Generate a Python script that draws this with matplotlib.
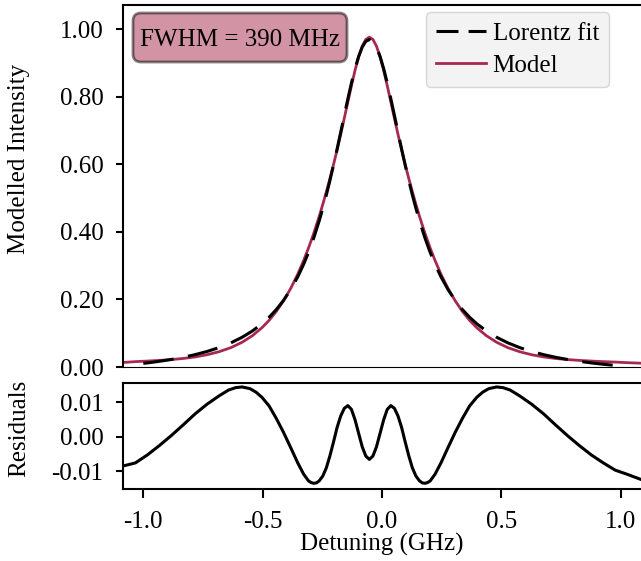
import numpy as np
import matplotlib
matplotlib.use("Agg")
import matplotlib.pyplot as plt
from matplotlib.patches import FancyBboxPatch
from matplotlib.transforms import IdentityTransform

plt.rcParams.update({
    "font.family": ["Liberation Serif", "DejaVu Serif"],
    "font.size": 18,
    "axes.unicode_minus": False,
    "axes.linewidth": 1.5,
    "xtick.major.width": 1.5, "ytick.major.width": 1.5,
    "xtick.major.size": 6.5, "ytick.major.size": 5,
})

MODEL_COLOR = "#a62a4d"

# detuning grid (GHz) for the model curve
x_model = [-1.085, -1.033, -0.983, -0.933, -0.883, -0.833, -0.783, -0.733, -0.683, -0.633,
           -0.586, -0.543, -0.503, -0.473, -0.443, -0.413, -0.383, -0.353, -0.328, -0.308,
           -0.286, -0.263, -0.248, -0.233, -0.218, -0.203, -0.188, -0.173, -0.158, -0.143,
           -0.128, -0.113, -0.098, -0.083, -0.068, -0.053, -0.038, -0.023, -0.008, 0.007,
           0.022, 0.037, 0.052, 0.067, 0.082, 0.097, 0.112, 0.127, 0.142, 0.157,
           0.180, 0.202, 0.222, 0.247, 0.277, 0.307, 0.337, 0.367, 0.397, 0.437,
           0.480, 0.527, 0.577, 0.627, 0.677, 0.727, 0.777, 0.827, 0.877, 0.927,
           0.977, 1.027, 1.085]
model = [0.0134, 0.0159, 0.0176, 0.0195, 0.0220, 0.0253, 0.0298, 0.0363, 0.0452, 0.0574,
         0.0733, 0.0928, 0.1163, 0.1381, 0.1645, 0.1956, 0.2320, 0.2748, 0.3158, 0.3522,
         0.3958, 0.4462, 0.4818, 0.5192, 0.5585, 0.5998, 0.6432, 0.6891, 0.7367, 0.7851,
         0.8330, 0.8785, 0.9184, 0.9499, 0.9699, 0.9768, 0.9699, 0.9499, 0.9184, 0.8785,
         0.8330, 0.7851, 0.7367, 0.6891, 0.6432, 0.5998, 0.5585, 0.5192, 0.4818, 0.4462,
         0.3958, 0.3522, 0.3158, 0.2748, 0.2320, 0.1956, 0.1645, 0.1381, 0.1163, 0.0928,
         0.0733, 0.0574, 0.0452, 0.0363, 0.0298, 0.0253, 0.0220, 0.0195, 0.0176, 0.0159,
         0.0146, 0.0128, 0.0113]

# Lorentz fit, evaluated on [-1, 1] GHz
x_fit = [-1.0, -0.983, -0.933, -0.883, -0.833, -0.783, -0.733, -0.683, -0.633,
         -0.586, -0.543, -0.503, -0.473, -0.443, -0.413, -0.383, -0.353, -0.328, -0.308,
         -0.286, -0.263, -0.248, -0.233, -0.218, -0.203, -0.188, -0.173, -0.158, -0.143,
         -0.128, -0.113, -0.098, -0.083, -0.068, -0.053, -0.038, -0.023, -0.008, 0.007,
         0.022, 0.037, 0.052, 0.067, 0.082, 0.097, 0.112, 0.127, 0.142, 0.157,
         0.180, 0.202, 0.222, 0.247, 0.277, 0.307, 0.337, 0.367, 0.397, 0.437,
         0.480, 0.527, 0.577, 0.627, 0.677, 0.727, 0.777, 0.827, 0.877, 0.927,
         0.977, 1.0]
fit = [0.0107, 0.0121, 0.0168, 0.0223, 0.0288, 0.0366, 0.0460, 0.0574, 0.0716,
       0.0881, 0.1067, 0.1281, 0.1473, 0.1700, 0.1969, 0.2288, 0.2670, 0.3046, 0.3390,
       0.3819, 0.4330, 0.4700, 0.5099, 0.5528, 0.5983, 0.6460, 0.6953, 0.7452, 0.7944,
       0.8411, 0.8835, 0.9194, 0.9469, 0.9641, 0.9700, 0.9641, 0.9469, 0.9194, 0.8835,
       0.8411, 0.7944, 0.7452, 0.6953, 0.6460, 0.5983, 0.5528, 0.5099, 0.4700, 0.4330,
       0.3819, 0.3390, 0.3046, 0.2670, 0.2288, 0.1969, 0.1700, 0.1473, 0.1281, 0.1067,
       0.0881, 0.0716, 0.0574, 0.0460, 0.0366, 0.0288, 0.0223, 0.0168, 0.0121, 0.0081,
       0.0046, 0.0032]

# residuals panel
x_resid = [-1.085, -1.033, -0.983, -0.933, -0.883, -0.833, -0.783, -0.733, -0.683, -0.643,
           -0.613, -0.586, -0.553, -0.528, -0.503, -0.473, -0.443, -0.413, -0.383, -0.353,
           -0.328, -0.308, -0.297, -0.286, -0.275, -0.263, -0.248, -0.233, -0.218, -0.203,
           -0.188, -0.173, -0.158, -0.143, -0.128, -0.113, -0.098, -0.083, -0.068, -0.053,
           -0.038, -0.023, -0.008, 0.007, 0.022, 0.037, 0.052, 0.067, 0.082, 0.097,
           0.112, 0.127, 0.142, 0.157, 0.169, 0.180, 0.191, 0.202, 0.222, 0.247,
           0.277, 0.307, 0.337, 0.367, 0.397, 0.422, 0.447, 0.480, 0.507, 0.537,
           0.577, 0.627, 0.677, 0.727, 0.777, 0.827, 0.877, 0.927, 0.977, 1.027, 1.085]
residuals = [-0.0085, -0.0076, -0.0053, -0.0026, 0.0003, 0.0034, 0.0066, 0.0094, 0.0118, 0.0135,
             0.0142, 0.0144, 0.0139, 0.0129, 0.0114, 0.0089, 0.0053, 0.0013, -0.0031, -0.0076,
             -0.0109, -0.0128, -0.0133, -0.0135, -0.0134, -0.0128, -0.0114, -0.0090, -0.0055, -0.0015,
             0.0027, 0.0060, 0.0082, 0.0090, 0.0079, 0.0049, 0.0010, -0.0029, -0.0056, -0.0066,
             -0.0056, -0.0029, 0.0010, 0.0049, 0.0079, 0.0090, 0.0082, 0.0060, 0.0027, -0.0015,
             -0.0055, -0.0090, -0.0114, -0.0128, -0.0134, -0.0135, -0.0133, -0.0128, -0.0109, -0.0076,
             -0.0031, 0.0013, 0.0053, 0.0089, 0.0114, 0.0129, 0.0139, 0.0144, 0.0142, 0.0135,
             0.0118, 0.0094, 0.0066, 0.0034, 0.0003, -0.0026, -0.0053, -0.0076, -0.0097, -0.0109,
             -0.0124]

fwhm_label = "FWHM = 390 MHz"

W, H = 641, 561
fig = plt.figure(figsize=(W / 100, H / 100), dpi=100)
ax = fig.add_axes([0.1919, 0.3458, 0.8081, 0.6453])
axr = fig.add_axes([0.1919, 0.1275, 0.8081, 0.1889])

l_model, = ax.plot(x_model, model, color=MODEL_COLOR, lw=2.0, label="Model", zorder=2)
l_fit, = ax.plot(x_fit, fit, color="black", lw=2.2, dashes=(10, 4.8), label="Lorentz fit", zorder=3)
ax.set_xlim(-1.085, 1.085)
ax.set_ylim(0.0, 1.072)
yt = [0.0, 0.2, 0.4, 0.6, 0.8, 1.0]
ax.set_yticks(yt)
ax.set_yticklabels([f"{v:.2f}" for v in yt])
ax.set_xticks([])
ax.spines["right"].set_visible(False)
ax.spines["bottom"].set_linewidth(0.8)
ax.tick_params(axis="y", pad=9)
ax.set_ylabel("Modelled Intensity")
ax.yaxis.set_label_coords(-0.18, 0.575)

leg = ax.legend(handles=[l_fit, l_model], loc="upper right",
                bbox_to_anchor=(0.950, 0.9786), bbox_transform=fig.transFigure,
                borderaxespad=0, fancybox=True, facecolor="#f3f3f3",
                edgecolor="#d6d6d6", framealpha=1.0, handlelength=2.0,
                handletextpad=0.25, labelspacing=0.4)
leg.get_lines()[0].set_dashes((7.2, 3.3))

# FWHM annotation box (pixel geometry)
box = FancyBboxPatch((133, H - 62), 214, 49, boxstyle="round,pad=0,rounding_size=8",
                     transform=IdentityTransform(), facecolor=MODEL_COLOR, edgecolor="black",
                     alpha=0.5, linewidth=2, zorder=5)
fig.patches.append(box)
fig.text(240.5 / W, 1 - 45.5 / H, fwhm_label, ha="center", va="baseline", zorder=6)

axr.plot(x_resid, residuals, color="black", lw=2.2)
axr.set_xlim(-1.085, 1.085)
axr.set_ylim(-0.0153, 0.0154)
axr.set_yticks([-0.01, 0.0, 0.01])
axr.set_yticklabels(["-0.01", "0.00", "0.01"])
axr.set_xticks([-1.0, -0.5, 0.0, 0.5, 1.0])
axr.spines["right"].set_visible(False)
axr.tick_params(axis="y", pad=9)
axr.tick_params(axis="x", pad=9)
axr.set_ylabel("Residuals")
axr.yaxis.set_label_coords(-0.18, 0.58)
axr.set_xlabel("Detuning (GHz)", labelpad=0)

fig.savefig("out.png", dpi=100)
